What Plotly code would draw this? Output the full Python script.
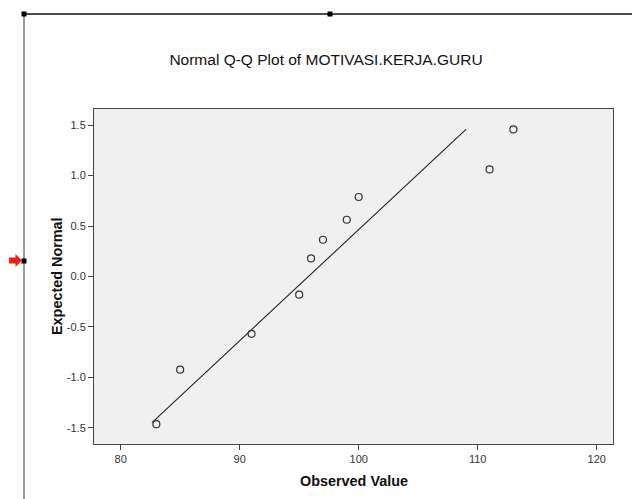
import plotly.graph_objects as go

# Data
observed = [83, 85, 91, 95, 96, 97, 99, 100, 111, 113]
expected_normal = [-1.464, -0.923, -0.568, -0.18, 0.179, 0.364, 0.5625, 0.788, 1.061, 1.458]
line_observed = [82.63, 109.02]
line_expected = [-1.448, 1.458]
x_ticks = [80, 90, 100, 110, 120]
y_ticks = [-1.5, -1.0, -0.5, 0.0, 0.5, 1.0, 1.5]

W, H = 632, 499
L, R, T, B = 94, 19, 109, 55
PW, PH = W - L - R, H - T - B

def px(x):
    return (x - L) / PW

def py(y):
    return (H - B - y) / PH

fig = go.Figure()
fig.add_trace(go.Scatter(x=line_observed, y=line_expected, mode="lines",
                         line=dict(color="#222222", width=1.1), hoverinfo="skip",
                         showlegend=False))
fig.add_trace(go.Scatter(x=observed, y=expected_normal, mode="markers",
                         marker=dict(symbol="circle-open", size=7,
                                     color="#333333", line=dict(width=1.2, color="#333333")),
                         showlegend=False))

font = "Liberation Sans, Arial, sans-serif"
axis_common = dict(showgrid=False, zeroline=False, showline=True, mirror=True,
                   linecolor="#444444", linewidth=1, ticks="outside", ticklen=5,
                   tickcolor="#444444", tickwidth=1,
                   tickfont=dict(family=font, size=11, color="#333333"))

fig.update_layout(
    width=W, height=H,
    margin=dict(l=L, r=R, t=T, b=B),
    paper_bgcolor="white", plot_bgcolor="#F0F0F0",
    xaxis=dict(range=[77.76, 121.37], tickvals=x_ticks,
               ticktext=[str(v) for v in x_ticks], **axis_common),
    yaxis=dict(range=[-1.66, 1.66], tickvals=y_ticks,
               ticktext=[f"{v:.1f}" for v in y_ticks], **axis_common),
    title=dict(text="Normal Q-Q Plot of MOTIVASI.KERJA.GURU",
               font=dict(family=font, size=15.5, color="#111111"),
               x=px(326), xanchor="center", xref="paper",
               y=1 - 60 / H, yanchor="middle", yref="container"),
    annotations=[
        dict(text="<b>Observed Value</b>", x=px(354), y=py(481), xref="paper", yref="paper",
             showarrow=False, xanchor="center", yanchor="middle",
             font=dict(family=font, size=14.4, color="#111111")),
        dict(text="<b>Expected Normal</b>", x=px(57), y=py(276), xref="paper", yref="paper",
             showarrow=False, xanchor="center", yanchor="middle", textangle=-90,
             font=dict(family=font, size=14.4, color="#111111")),
    ],
)

# Frame decorations (selection handles and marker arrow around the chart)
shapes = []
shapes.append(dict(type="line", xref="paper", yref="paper",
                   x0=px(24), x1=px(632), y0=py(14), y1=py(14),
                   line=dict(color="#111111", width=1.5)))
shapes.append(dict(type="line", xref="paper", yref="paper",
                   x0=px(24), x1=px(24), y0=py(14), y1=py(499),
                   line=dict(color="#777777", width=1.5)))
for (cx, cy) in [(24, 14), (330, 14), (24, 261)]:
    shapes.append(dict(type="rect", xref="paper", yref="paper",
                       x0=px(cx - 2.5), x1=px(cx + 2.5), y0=py(cy + 2.5), y1=py(cy - 2.5),
                       fillcolor="black", line=dict(width=0)))
arrow = [(9, 257.5), (15.5, 257.5), (15.5, 254), (22, 260.5), (15.5, 267), (15.5, 263.5), (9, 263.5)]
path = "M " + " L ".join(f"{px(a):.5f},{py(b):.5f}" for a, b in arrow) + " Z"
shapes.append(dict(type="path", xref="paper", yref="paper", path=path,
                   fillcolor="#FF1A1A", line=dict(width=0)))
fig.update_layout(shapes=shapes)

fig.write_html("out.html", config={"displayModeBar": False},
               post_script="document.body.style.margin='0';document.body.style.overflow='hidden';")
